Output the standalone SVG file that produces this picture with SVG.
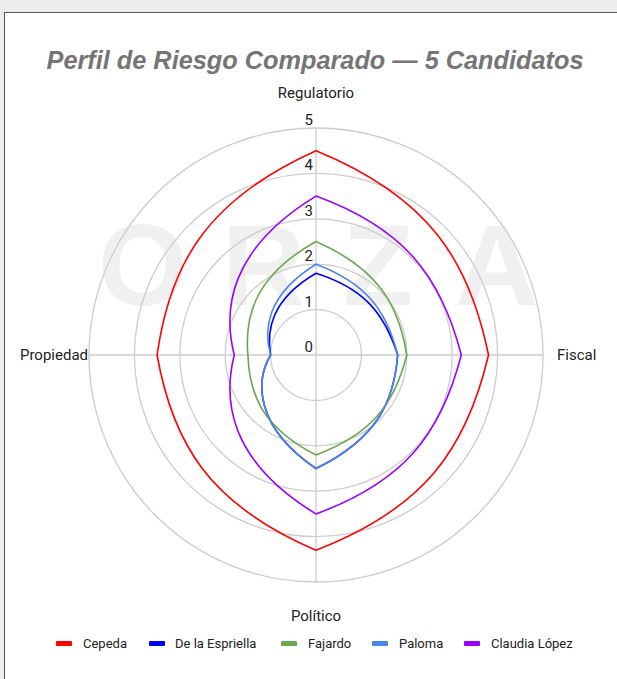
<svg xmlns="http://www.w3.org/2000/svg" width="617" height="679" viewBox="0 0 617 679">
<style>
.grid{fill:none;stroke:#cccccc;stroke-width:1.3}
.ser{fill:none;stroke-width:1.6;stroke-linejoin:miter}
.lbl{font-family:Roboto,"Liberation Sans",sans-serif;font-size:15px;fill:#222222}
.tick{font-family:Roboto,"Liberation Sans",sans-serif;font-size:15px;fill:#222222;text-anchor:end}
.leg{font-family:Roboto,"Liberation Sans",sans-serif;font-size:13px;fill:#222222}
.wm{font-family:"Liberation Sans",Arial,sans-serif;font-weight:bold;font-size:115px;fill:#f0f0f0}
</style>
<rect x="0" y="0" width="617" height="679" fill="#ececec"/>
<rect x="4.5" y="12.5" width="640" height="700" fill="#ffffff" stroke="#555555" stroke-width="1"/>
<g id="watermark">
<text class="wm" x="98" y="305">O</text>
<text class="wm" x="222" y="305">R</text>
<text class="wm" x="343" y="305">Z</text>
<text class="wm" x="455" y="305">A</text>
</g>
<text id="title" x="315" y="69" text-anchor="middle" font-family="Liberation Sans, Arial, sans-serif" font-weight="bold" font-style="italic" font-size="25.3" fill="#757575">Perfil de Riesgo Comparado — 5 Candidatos</text>
<g id="grid">
<circle class="grid" cx="316" cy="355" r="45.4"/>
<circle class="grid" cx="316" cy="355" r="90.8"/>
<circle class="grid" cx="316" cy="355" r="136.2"/>
<circle class="grid" cx="316" cy="355" r="181.6"/>
<circle class="grid" cx="316" cy="355" r="227"/>
<line class="grid" x1="316" y1="128" x2="316" y2="582"/>
<line class="grid" x1="89" y1="355" x2="543" y2="355"/>
</g>
<g id="ticks">
<text class="tick" x="313" y="125">5</text>
<text class="tick" x="313" y="170">4</text>
<text class="tick" x="313" y="216">3</text>
<text class="tick" x="313" y="261">2</text>
<text class="tick" x="313" y="307">1</text>
<text class="tick" x="313" y="352">0</text>
</g>
<g id="axis-labels">
<text class="lbl" x="316" y="98" text-anchor="middle">Regulatorio</text>
<text class="lbl" x="557" y="360">Fiscal</text>
<text class="lbl" x="316" y="621" text-anchor="middle">Político</text>
<text class="lbl" x="88" y="360" text-anchor="end">Propiedad</text>
</g>
<g id="series">
<path id="cepeda" class="ser" stroke="#ff0000" d="M316,150.7 C428.4,196.7 469.2,260.1 488.5,355 C466.2,449.9 423.4,508.8 316,550.2 C208.6,504.3 172.5,442.4 157.1,355 C169.5,267.6 203.6,201.2 316,150.7 Z"/>
<path id="delaespriella" class="ser" stroke="#0000ff" d="M316,273.3 C360.9,287.5 383.5,310.1 397.7,355 C394.1,399.9 378.4,438.2 316,468.5 C253.6,426.1 255.8,380 270.6,355 C266.4,330 271.1,299.6 316,273.3 Z"/>
<path id="fajardo" class="ser" stroke="#6aa84f" d="M316,241.5 C378.4,268.8 398.7,305.1 406.8,355 C394.1,404.9 370.9,434.6 316,454.9 C261.1,427 249.1,392.5 247.9,355 C244.6,317.5 253.6,276.3 316,241.5 Z"/>
<path id="paloma" class="ser" stroke="#4a86e8" d="M316,264.2 C365.9,282.9 386.5,310.1 397.7,355 C394.1,399.9 378.4,438.2 316,468.5 C253.6,426.1 255.8,380 270.6,355 C263.4,330 266.1,295 316,264.2 Z"/>
<path id="claudia" class="ser" stroke="#9900ff" d="M316,196.1 C403.4,228.1 440.6,275.1 461.3,355 C440.6,434.9 403.4,481.9 316,513.9 C228.6,460.7 222.8,399.9 234.3,355 C222.8,310.1 228.6,249.3 316,196.1 Z"/>
</g>
<g id="legend">
<rect x="56" y="641" width="16" height="5" rx="1" fill="#ff0000"/>
<text class="leg" x="83" y="648">Cepeda</text>
<rect x="149" y="641" width="16" height="5" rx="1" fill="#0000ff"/>
<text class="leg" x="175" y="648">De la Espriella</text>
<rect x="281" y="641" width="16" height="5" rx="1" fill="#6aa84f"/>
<text class="leg" x="308" y="648">Fajardo</text>
<rect x="372" y="641" width="16" height="5" rx="1" fill="#4a86e8"/>
<text class="leg" x="399" y="648">Paloma</text>
<rect x="464" y="641" width="16" height="5" rx="1" fill="#9900ff"/>
<text class="leg" x="491" y="648">Claudia López</text>
</g>
</svg>
